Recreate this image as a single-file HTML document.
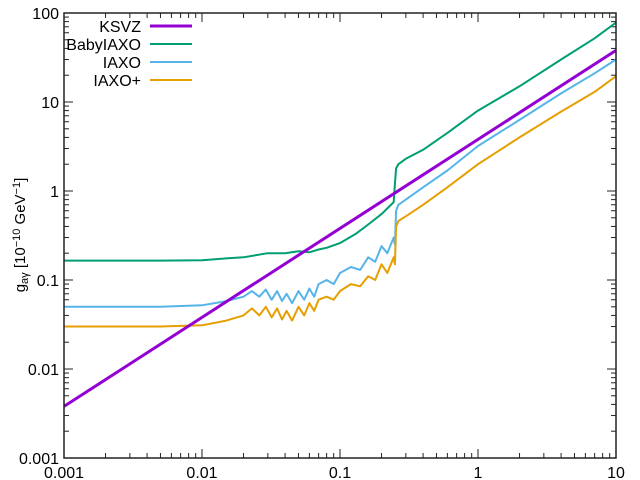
<!DOCTYPE html>
<html><head><meta charset="utf-8"><style>
html,body{margin:0;padding:0;background:#fff;}
svg{display:block;font-family:"Liberation Sans",sans-serif;}
</style></head><body>
<svg id="chart" width="640" height="480" viewBox="0 0 640 480">
<g id="grid"></g>
<g id="series"></g>
<rect x="64" y="13" width="552" height="445" fill="none" stroke="#222" stroke-width="1.5"/>
<text transform="translate(25,235) rotate(-90)" text-anchor="middle" font-size="15">g<tspan font-size="11" dy="3">aγ</tspan><tspan dy="-3"> [10</tspan><tspan font-size="11" dy="-5">−10</tspan><tspan dy="5"> GeV</tspan><tspan font-size="11" dy="-5">−1</tspan><tspan dy="5">]</tspan></text>
<g id="legend"></g>
</svg>
<script>
const xTickVals=[0.001,0.01,0.1,1,10];
const xTickLabels=["0.001","0.01","0.1","1","10"];
const yTickVals=[0.001,0.01,0.1,1,10,100];
const yTickLabels=["0.001","0.01","0.1","1","10","100"];
const seriesNames=["KSVZ","BabyIAXO","IAXO","IAXO+"];
const ksvzM=[0.001,10];
const ksvzG=[0.0038,38];
const babyM=[0.001,0.005,0.01,0.015,0.02,0.03,0.04,0.05,0.06,0.07,0.08,0.1,0.13,0.16,0.2,0.245,0.25,0.255,0.265,0.3,0.4,0.6,1,2,4,7,10];
const babyG=[0.165,0.165,0.167,0.175,0.18,0.2,0.2,0.21,0.205,0.22,0.23,0.26,0.33,0.42,0.55,0.75,1.2,1.8,2.0,2.3,2.9,4.5,8,15,30,52,78];
const iaxoM=[0.001,0.005,0.01,0.015,0.02,0.023,0.026,0.029,0.032,0.035,0.038,0.041,0.045,0.05,0.055,0.06,0.065,0.07,0.08,0.09,0.1,0.12,0.14,0.16,0.18,0.2,0.22,0.245,0.25,0.255,0.265,0.3,0.4,0.6,1,2,4,7,10];
const iaxoG=[0.05,0.05,0.052,0.058,0.065,0.075,0.065,0.078,0.06,0.075,0.058,0.07,0.055,0.075,0.06,0.08,0.065,0.09,0.1,0.09,0.12,0.14,0.13,0.18,0.16,0.24,0.2,0.3,0.25,0.6,0.7,0.8,1.1,1.7,3.2,6.3,12.5,21,30];
const iaxoPlusG=[0.03,0.03,0.031,0.035,0.04,0.048,0.04,0.05,0.038,0.048,0.036,0.045,0.035,0.05,0.04,0.055,0.045,0.06,0.065,0.06,0.075,0.09,0.085,0.11,0.1,0.15,0.12,0.18,0.15,0.4,0.46,0.52,0.7,1.1,2,4,7.8,13,19.5];

const NS="http://www.w3.org/2000/svg";
const L=64,R=616,T=13,B=458;
const X=v=>L+(Math.log10(v)+3)/4*(R-L);
const Y=v=>B-(Math.log10(v)+3)/5*(B-T);
function mk(tag,attrs,parent){const e=document.createElementNS(NS,tag);for(const k in attrs)e.setAttribute(k,attrs[k]);parent.appendChild(e);return e;}
const grid=document.getElementById('grid');
for(let d=-3;d<1;d++){for(let k=1;k<=10;k++){const v=k*Math.pow(10,d);const x=X(v);const len=(k===1||k===10)?9:5;
 const t1=mk('line',{x1:x,x2:x,y1:B,y2:B-len,stroke:'#222','stroke-width':1},grid);
 
 
 const t2=mk('line',{x1:x,x2:x,y1:T,y2:T+len,stroke:'#222','stroke-width':1},grid);
 
 }}
for(let d=-3;d<2;d++){for(let k=1;k<=10;k++){const v=k*Math.pow(10,d);const y=Y(v);const len=(k===1||k===10)?9:5;
 const t1=mk('line',{x1:L,x2:L+len,y1:y,y2:y,stroke:'#222','stroke-width':1},grid);
 
 
 const t2=mk('line',{x1:R,x2:R-len,y1:y,y2:y,stroke:'#222','stroke-width':1},grid);
 
 }}
xTickVals.forEach((v,i)=>{const t=mk('text',{x:X(v),y:B+20,'text-anchor':'middle','font-size':16},grid);t.textContent=xTickLabels[i];
 
 });
yTickVals.forEach((v,i)=>{const t=mk('text',{x:L-5,y:Y(v)+6,'text-anchor':'end','font-size':16},grid);t.textContent=yTickLabels[i];
 
 });
const ser=document.getElementById('series');
const defs=[[babyM,babyG,'#009e73',2,'babyiaxo-line'],[iaxoM,iaxoG,'#56b4e9',2,'iaxo-line'],[iaxoM,iaxoPlusG,'#e69f00',2,'iaxo-plus-line'],[ksvzM,ksvzG,'#9400d3',3,'ksvz-line']];
defs.forEach(s=>{const d=s[0].map((m,i)=>(i?'L':'M')+X(m).toFixed(1)+','+Y(s[1][i]).toFixed(1)).join('');
 const p=mk('path',{d:d,fill:'none',stroke:s[2],'stroke-width':s[3],'stroke-linejoin':'round'},ser);
 
 });
const leg=document.getElementById('legend');
const legColors=['#9400d3','#009e73','#56b4e9','#e69f00'];
const legW=[3,2,2,2];
seriesNames.forEach((n,i)=>{const y=26+i*18;
 const t=mk('text',{x:141,y:y+6,'text-anchor':'end','font-size':16},leg);t.textContent=n;
 
 
 const l=mk('line',{x1:150,x2:192,y1:y,y2:y,stroke:legColors[i],'stroke-width':legW[i]},leg);
 
 });
</script>
</body></html>
